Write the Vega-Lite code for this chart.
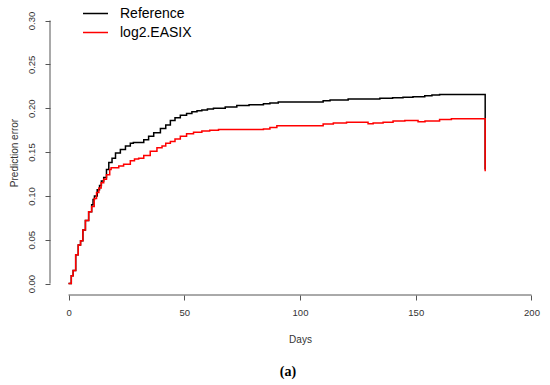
{
  "$schema": "https://vega.github.io/schema/vega-lite/v6.json",
  "width": 500,
  "height": 285,
  "autosize": {"type": "none"},
  "padding": {"left": 50, "top": 10, "right": 0, "bottom": 90},
  "background": "white",
  "config": {"view": {"stroke": null}, "font": "Liberation Sans"},
  "title": {"text": "(a)", "orient": "bottom", "anchor": "middle", "dx": -12, "offset": 20, "font": "Liberation Serif", "fontSize": 14, "fontWeight": "bold", "color": "black"},
  "layer": [
    {
      "data": {"values": [
        {"s": "Reference", "d": 0, "v": 0},
        {"s": "Reference", "d": 1.2, "v": 0.009},
        {"s": "Reference", "d": 2, "v": 0.015},
        {"s": "Reference", "d": 3.1, "v": 0.033},
        {"s": "Reference", "d": 4.2, "v": 0.044},
        {"s": "Reference", "d": 5.2, "v": 0.049},
        {"s": "Reference", "d": 6.2, "v": 0.061},
        {"s": "Reference", "d": 7.3, "v": 0.072},
        {"s": "Reference", "d": 8.7, "v": 0.082},
        {"s": "Reference", "d": 10, "v": 0.09},
        {"s": "Reference", "d": 10.6, "v": 0.096},
        {"s": "Reference", "d": 11.2, "v": 0.1},
        {"s": "Reference", "d": 12.4, "v": 0.107},
        {"s": "Reference", "d": 13.4, "v": 0.112},
        {"s": "Reference", "d": 14.2, "v": 0.117},
        {"s": "Reference", "d": 15.2, "v": 0.121},
        {"s": "Reference", "d": 16.4, "v": 0.13},
        {"s": "Reference", "d": 17.4, "v": 0.138},
        {"s": "Reference", "d": 18.8, "v": 0.143},
        {"s": "Reference", "d": 20.3, "v": 0.149},
        {"s": "Reference", "d": 22.4, "v": 0.153},
        {"s": "Reference", "d": 24.6, "v": 0.157},
        {"s": "Reference", "d": 26.7, "v": 0.16},
        {"s": "Reference", "d": 28, "v": 0.161},
        {"s": "Reference", "d": 32.5, "v": 0.164},
        {"s": "Reference", "d": 34.6, "v": 0.168},
        {"s": "Reference", "d": 36.8, "v": 0.172},
        {"s": "Reference", "d": 39.7, "v": 0.177},
        {"s": "Reference", "d": 42, "v": 0.181},
        {"s": "Reference", "d": 44, "v": 0.186},
        {"s": "Reference", "d": 46, "v": 0.189},
        {"s": "Reference", "d": 48.3, "v": 0.192},
        {"s": "Reference", "d": 51, "v": 0.194},
        {"s": "Reference", "d": 53.3, "v": 0.196},
        {"s": "Reference", "d": 55.5, "v": 0.197},
        {"s": "Reference", "d": 57.6, "v": 0.198},
        {"s": "Reference", "d": 60, "v": 0.199},
        {"s": "Reference", "d": 62.6, "v": 0.2},
        {"s": "Reference", "d": 67.7, "v": 0.2015},
        {"s": "Reference", "d": 72.7, "v": 0.203},
        {"s": "Reference", "d": 78, "v": 0.204},
        {"s": "Reference", "d": 84.2, "v": 0.205},
        {"s": "Reference", "d": 87, "v": 0.206},
        {"s": "Reference", "d": 90.6, "v": 0.207},
        {"s": "Reference", "d": 110, "v": 0.2085},
        {"s": "Reference", "d": 113, "v": 0.2095},
        {"s": "Reference", "d": 120.8, "v": 0.2105},
        {"s": "Reference", "d": 134.5, "v": 0.2113},
        {"s": "Reference", "d": 140, "v": 0.212},
        {"s": "Reference", "d": 144.5, "v": 0.2125},
        {"s": "Reference", "d": 148.8, "v": 0.2132},
        {"s": "Reference", "d": 153.9, "v": 0.2142},
        {"s": "Reference", "d": 157, "v": 0.215},
        {"s": "Reference", "d": 160.3, "v": 0.2155},
        {"s": "Reference", "d": 180, "v": 0.13},
        {"s": "log2.EASIX", "d": 0, "v": 0},
        {"s": "log2.EASIX", "d": 1.2, "v": 0.009},
        {"s": "log2.EASIX", "d": 2, "v": 0.015},
        {"s": "log2.EASIX", "d": 3.1, "v": 0.033},
        {"s": "log2.EASIX", "d": 4.2, "v": 0.044},
        {"s": "log2.EASIX", "d": 5.2, "v": 0.049},
        {"s": "log2.EASIX", "d": 6.2, "v": 0.061},
        {"s": "log2.EASIX", "d": 7.3, "v": 0.072},
        {"s": "log2.EASIX", "d": 8.7, "v": 0.082},
        {"s": "log2.EASIX", "d": 10, "v": 0.088},
        {"s": "log2.EASIX", "d": 11.1, "v": 0.097},
        {"s": "log2.EASIX", "d": 12.1, "v": 0.104},
        {"s": "log2.EASIX", "d": 13.1, "v": 0.109},
        {"s": "log2.EASIX", "d": 14.1, "v": 0.115},
        {"s": "log2.EASIX", "d": 15.2, "v": 0.119},
        {"s": "log2.EASIX", "d": 16.4, "v": 0.124},
        {"s": "log2.EASIX", "d": 17.8, "v": 0.13},
        {"s": "log2.EASIX", "d": 18.4, "v": 0.132},
        {"s": "log2.EASIX", "d": 21.7, "v": 0.134},
        {"s": "log2.EASIX", "d": 23.8, "v": 0.136},
        {"s": "log2.EASIX", "d": 26.7, "v": 0.14},
        {"s": "log2.EASIX", "d": 28.5, "v": 0.142},
        {"s": "log2.EASIX", "d": 30.3, "v": 0.143},
        {"s": "log2.EASIX", "d": 32.5, "v": 0.146},
        {"s": "log2.EASIX", "d": 35.3, "v": 0.151},
        {"s": "log2.EASIX", "d": 38.2, "v": 0.155},
        {"s": "log2.EASIX", "d": 40.4, "v": 0.157},
        {"s": "log2.EASIX", "d": 42, "v": 0.16},
        {"s": "log2.EASIX", "d": 44, "v": 0.162},
        {"s": "log2.EASIX", "d": 46, "v": 0.165},
        {"s": "log2.EASIX", "d": 48.3, "v": 0.168},
        {"s": "log2.EASIX", "d": 51, "v": 0.171},
        {"s": "log2.EASIX", "d": 54, "v": 0.1725},
        {"s": "log2.EASIX", "d": 57.6, "v": 0.174},
        {"s": "log2.EASIX", "d": 61, "v": 0.175},
        {"s": "log2.EASIX", "d": 64.8, "v": 0.1756},
        {"s": "log2.EASIX", "d": 84.2, "v": 0.1764},
        {"s": "log2.EASIX", "d": 87, "v": 0.178},
        {"s": "log2.EASIX", "d": 90, "v": 0.18},
        {"s": "log2.EASIX", "d": 110, "v": 0.182},
        {"s": "log2.EASIX", "d": 114.4, "v": 0.183},
        {"s": "log2.EASIX", "d": 120.1, "v": 0.184},
        {"s": "log2.EASIX", "d": 129.4, "v": 0.1824},
        {"s": "log2.EASIX", "d": 131.6, "v": 0.183},
        {"s": "log2.EASIX", "d": 135.9, "v": 0.184},
        {"s": "log2.EASIX", "d": 140.2, "v": 0.1855},
        {"s": "log2.EASIX", "d": 145.3, "v": 0.186},
        {"s": "log2.EASIX", "d": 151, "v": 0.1845},
        {"s": "log2.EASIX", "d": 154, "v": 0.1855},
        {"s": "log2.EASIX", "d": 160.3, "v": 0.187},
        {"s": "log2.EASIX", "d": 165.4, "v": 0.188},
        {"s": "log2.EASIX", "d": 180, "v": 0.128}
      ]},
      "mark": {"type": "line", "interpolate": "step-after", "strokeWidth": 1.5},
      "encoding": {
        "x": {"field": "d", "type": "quantitative",
          "scale": {"domain": [-8, 208], "nice": false, "zero": false},
          "axis": {"values": [0, 50, 100, 150, 200], "domain": false, "grid": false, "tickColor": "#555", "tickSize": 5, "labelFontSize": 9.5, "labelColor": "#333", "labelPadding": 7, "labelFlush": false, "labelOverlap": false, "title": "Days", "titleFontSize": 10, "titleFontWeight": "normal", "titleColor": "#333", "titlePadding": 18}},
        "y": {"field": "v", "type": "quantitative",
          "scale": {"domain": [-0.013, 0.312], "nice": false, "zero": false},
          "axis": {"values": [0, 0.05, 0.1, 0.15, 0.2, 0.25, 0.3], "format": ".2f", "domain": false, "grid": false, "tickColor": "#555", "tickSize": 5, "labelFontSize": 9.5, "labelColor": "#333", "labelAngle": 270, "labelAlign": "center", "labelBaseline": "bottom", "labelPadding": 9, "labelFlush": false, "labelOverlap": false, "title": "Prediction error", "titleFontSize": 10, "titleFontWeight": "normal", "titleColor": "#333", "titlePadding": 7}},
        "color": {"field": "s", "type": "nominal",
          "scale": {"domain": ["Reference", "log2.EASIX"], "range": ["black", "red"]},
          "legend": {"orient": "none", "legendX": 32, "legendY": -6, "title": null, "symbolType": "stroke", "symbolSize": 625, "symbolStrokeWidth": 1.5, "labelFontSize": 14, "labelColor": "black", "labelOffset": 11, "clipHeight": 19, "rowPadding": 0, "padding": 0}}
      }
    },
    {
      "data": {"values": [{}]},
      "mark": {"type": "rule", "color": "#555", "strokeWidth": 1},
      "encoding": {"x": {"datum": 0}, "x2": {"datum": 200}, "y": {"datum": -0.013}}
    },
    {
      "data": {"values": [{}]},
      "mark": {"type": "rule", "color": "#555", "strokeWidth": 1},
      "encoding": {"x": {"datum": -8}, "y": {"datum": 0}, "y2": {"datum": 0.3}}
    }
  ]
}
